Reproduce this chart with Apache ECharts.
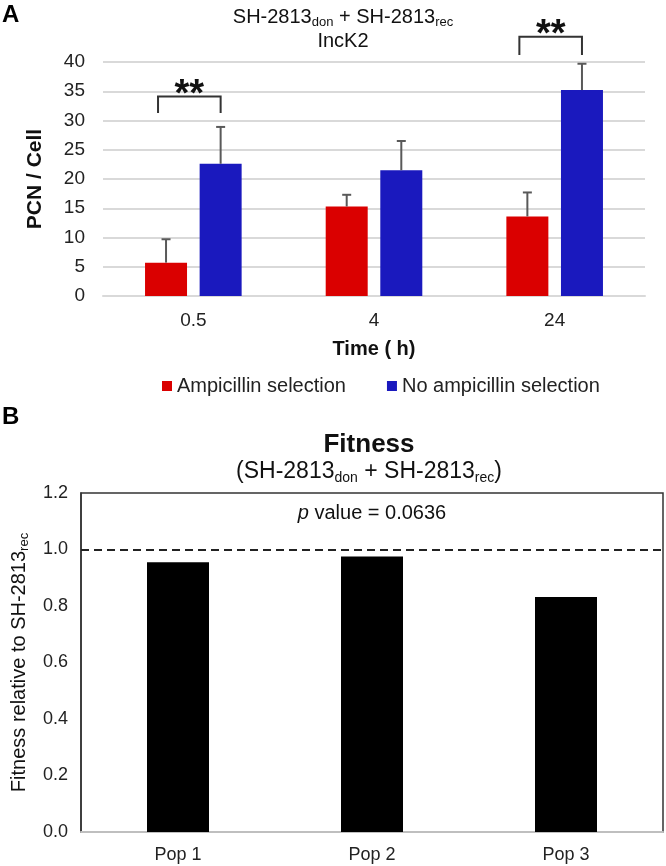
<!DOCTYPE html>
<html><head><meta charset="utf-8">
<script src="https://cdn.jsdelivr.net/npm/echarts@6/dist/echarts.min.js"></script>
<style>html,body{margin:0;padding:0;background:#fff}#c{width:666px;height:866px}</style>
</head><body><div id="c"></div>
<script>
// ---------- Panel A data ----------
const timeCategories = ['0.5', '4', '24'];
const ampMean = [5.7, 15.3, 13.6];
const ampSD = [4.0, 2.0, 4.1];
const noAmpMean = [22.6, 21.5, 35.2];
const noAmpSD = [6.3, 5.0, 4.5];
const seriesNamesA = ['Ampicillin selection', 'No ampicillin selection'];
const yMinA = 0, yMaxA = 40, yStepA = 5;
// significance brackets: category index, bracket top, leg end (data units)
const sigCategory = [0, 2];
const sigTop = [34.1, 44.3];
const sigLeg = [31.3, 41.2];
const sigText = ['**', '**'];

// ---------- Panel B data ----------
const popCategories = ['Pop 1', 'Pop 2', 'Pop 3'];
const fitness = [0.955, 0.975, 0.832];
const fitnessRef = 1.0;
const yMinB = 0, yMaxB = 1.2, yStepB = 0.2;
const pValue = '0.0636';

const FONT = '"Liberation Sans", Arial, Helvetica, sans-serif';
const RED = '#DA0000', BLUE = '#1A19BE', ERR = '#595959';
const BAR_W = 42, BAR_GAP = 0.3;
const HALF_OFF = (BAR_W + BAR_W * BAR_GAP) / 2;

function errRender(side) {
  return function (params, api) {
    const i = api.value(0);
    const b = api.coord([i, api.value(1)]);
    const t = api.coord([i, api.value(2)]);
    const x = b[0] + side * HALF_OFF;
    return {
      type: 'group', children: [
        { type: 'line', shape: { x1: x, y1: b[1], x2: x, y2: t[1] }, style: { stroke: ERR, lineWidth: 2 } },
        { type: 'line', shape: { x1: x - 4.5, y1: t[1], x2: x + 4.5, y2: t[1] }, style: { stroke: ERR, lineWidth: 2 } }
      ]
    };
  };
}

const chart = echarts.init(document.getElementById('c'), null, { renderer: 'canvas' });
const option = {
  animation: false,
  textStyle: { fontFamily: FONT },
  grid: [
    { left: 103, right: 21, top: 62, height: 234 },
    { left: 81, right: 3, top: 493, height: 339, show: true, borderColor: '#333', borderWidth: 1.5, backgroundColor: 'transparent' }
  ],
  legend: {
    data: seriesNamesA, left: 162, top: 376, padding: 0,
    icon: 'rect', itemWidth: 10, itemHeight: 10, itemGap: 41,
    textStyle: { fontSize: 20, color: '#222', fontFamily: FONT }
  },
  xAxis: [
    {
      type: 'category', gridIndex: 0, data: timeCategories,
      axisLine: { lineStyle: { color: '#d9d9d9', width: 2 } }, axisTick: { show: false },
      axisLabel: { fontSize: 19, color: '#222', margin: 15, fontFamily: FONT },
      name: 'Time ( h)', nameLocation: 'middle', nameGap: 43,
      nameTextStyle: { fontSize: 20, fontWeight: 'bold', color: '#111', fontFamily: FONT }
    },
    {
      type: 'category', gridIndex: 1, data: popCategories,
      axisLine: { lineStyle: { color: '#bfbfbf', width: 2 } }, axisTick: { show: false },
      axisLabel: { fontSize: 18, color: '#222', margin: 14, fontFamily: FONT }
    }
  ],
  yAxis: [
    {
      type: 'value', gridIndex: 0, min: yMinA, max: yMaxA, interval: yStepA,
      axisLine: { show: false }, axisTick: { show: false },
      splitLine: { lineStyle: { color: '#d9d9d9', width: 2 } },
      axisLabel: { fontSize: 19, color: '#222', margin: 18, fontFamily: FONT },
      name: 'PCN / Cell', nameLocation: 'middle', nameGap: 57, nameRotate: 90,
      nameTextStyle: { fontSize: 21, fontWeight: 'bold', color: '#111', fontFamily: FONT }
    },
    {
      type: 'value', gridIndex: 1, min: yMinB, max: yMaxB, interval: yStepB,
      axisLine: { show: true, lineStyle: { color: '#333', width: 1.5 } }, axisTick: { show: false },
      splitLine: { show: false },
      axisLabel: { fontSize: 18, color: '#222', margin: 13, fontFamily: FONT, formatter: v => v.toFixed(1) },
      name: '{a|Fitness relative to SH-2813}{s|rec}', nameLocation: 'middle', nameGap: 50, nameRotate: 90,
      nameTextStyle: {
        color: '#111', fontFamily: FONT,
        rich: {
          a: { fontSize: 20, lineHeight: 23, color: '#111', fontFamily: FONT },
          s: { fontSize: 13, lineHeight: 13, verticalAlign: 'bottom', color: '#111', fontFamily: FONT }
        }
      }
    }
  ],
  series: [
    {
      name: seriesNamesA[0], type: 'bar', xAxisIndex: 0, yAxisIndex: 0,
      data: ampMean, barWidth: BAR_W, barGap: (BAR_GAP * 100) + '%', itemStyle: { color: RED }
    },
    {
      name: seriesNamesA[1], type: 'bar', xAxisIndex: 0, yAxisIndex: 0,
      data: noAmpMean, barWidth: BAR_W, barGap: (BAR_GAP * 100) + '%', itemStyle: { color: BLUE }
    },
    {
      name: 'errAmp', type: 'custom', xAxisIndex: 0, yAxisIndex: 0, z: 5, clip: false, silent: true,
      renderItem: errRender(-1),
      data: timeCategories.map((c, i) => [i, ampMean[i], ampMean[i] + ampSD[i]])
    },
    {
      name: 'errNoAmp', type: 'custom', xAxisIndex: 0, yAxisIndex: 0, z: 5, clip: false, silent: true,
      renderItem: errRender(1),
      data: timeCategories.map((c, i) => [i, noAmpMean[i], noAmpMean[i] + noAmpSD[i]])
    },
    {
      name: 'sig', type: 'custom', xAxisIndex: 0, yAxisIndex: 0, z: 6, clip: false, silent: true,
      renderItem: function (params, api) {
        const i = api.value(0);
        const t = api.coord([i, api.value(1)]);
        const l = api.coord([i, api.value(2)]);
        const xL = t[0] - HALF_OFF - 8, xR = t[0] + HALF_OFF;
        return {
          type: 'group', children: [
            { type: 'polyline', shape: { points: [[xL, l[1]], [xL, t[1]], [xR, t[1]], [xR, l[1]]] },
              style: { stroke: '#333', lineWidth: 2, fill: null } },
            { type: 'text', style: { text: sigText[params.dataIndex], x: (xL + xR) / 2, y: t[1] - 1,
              align: 'center', verticalAlign: 'middle', font: 'bold 38px ' + FONT, fill: '#111' } }
          ]
        };
      },
      data: sigCategory.map((c, k) => [c, sigTop[k], sigLeg[k]])
    },
    {
      name: 'fitness', type: 'bar', xAxisIndex: 1, yAxisIndex: 1,
      data: fitness, barWidth: 62, itemStyle: { color: '#000' },
      markLine: {
        silent: true, symbol: ['none', 'none'], label: { show: false },
        lineStyle: { type: [8, 5], color: '#222', width: 2 },
        data: [{ yAxis: fitnessRef }]
      }
    }
  ],
  graphic: [
    { type: 'text', x: 2, y: 3, style: { text: 'A', font: 'bold 24px ' + FONT, fill: '#000' } },
    { type: 'text', x: 2, y: 405, style: { text: 'B', font: 'bold 24px ' + FONT, fill: '#000' } },
    { type: 'text', x: 343, y: 17, style: {
        text: '{n|SH-2813}{s|don}{n| + SH-2813}{s|rec}', align: 'center', verticalAlign: 'middle',
        rich: { n: { fontSize: 20, lineHeight: 23, fontFamily: FONT, fill: '#111' },
                s: { fontSize: 13, lineHeight: 13, verticalAlign: 'bottom', fontFamily: FONT, fill: '#111' } } } },
    { type: 'text', x: 343, y: 41, style: { text: 'IncK2', align: 'center', verticalAlign: 'middle', font: '20px ' + FONT, fill: '#111' } },
    { type: 'text', x: 369, y: 445, style: { text: 'Fitness', align: 'center', verticalAlign: 'middle', font: 'bold 26px ' + FONT, fill: '#111' } },
    { type: 'text', x: 369, y: 472, style: {
        text: '{n|(SH-2813}{s|don}{n| + SH-2813}{s|rec}{n|)}', align: 'center', verticalAlign: 'middle',
        rich: { n: { fontSize: 23, lineHeight: 26, fontFamily: FONT, fill: '#111' },
                s: { fontSize: 14, lineHeight: 14, verticalAlign: 'bottom', fontFamily: FONT, fill: '#111' } } } },
    { type: 'text', x: 372, y: 513, style: {
        text: '{i|p}{n| value = ' + pValue + '}', align: 'center', verticalAlign: 'middle',
        rich: { i: { fontSize: 20, fontStyle: 'italic', fontFamily: FONT, fill: '#111' },
                n: { fontSize: 20, fontFamily: FONT, fill: '#111' } } } }
  ]
};
chart.setOption(option);
</script>
</body></html>
